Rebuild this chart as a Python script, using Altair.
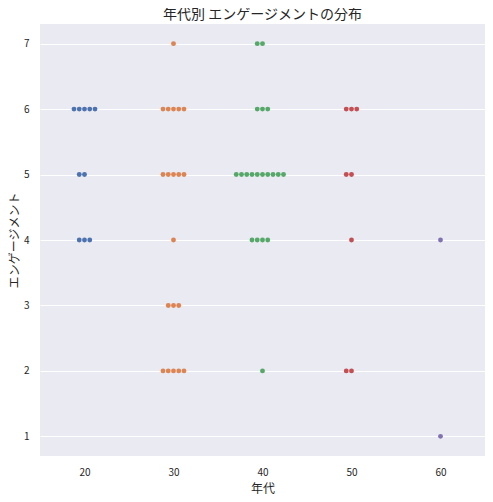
import altair as alt
import pandas as pd

# Age groups, engagement levels and number of respondents at each
ages = [20, 20, 20,
        30, 30, 30, 30, 30, 30,
        40, 40, 40, 40, 40,
        50, 50, 50, 50,
        60, 60]
engagement = [6, 5, 4,
              7, 6, 5, 4, 3, 2,
              7, 6, 5, 4, 2,
              6, 5, 4, 2,
              4, 1]
counts = [5, 2, 3,
          1, 5, 5, 1, 3, 5,
          2, 3, 10, 4, 1,
          3, 2, 1, 2,
          1, 1]

palette = ["#4C72B0", "#DD8452", "#55A868", "#C44E52", "#8172B3"]
age_order = [20, 30, 40, 50, 60]

rows = []
for a, e, n in zip(ages, engagement, counts):
    start = -(n // 2)
    for i in range(n):
        rows.append({"年代": a, "エンゲージメント": e, "slot": start + i})
df = pd.DataFrame(rows)

font = "Noto Sans CJK JP"

chart = (
    alt.Chart(df)
    .transform_calculate(xpos="datum['年代'] + datum.slot * 0.59")
    .mark_circle(size=24, opacity=1)
    .encode(
        x=alt.X("xpos:Q", title="年代",
                scale=alt.Scale(domain=[15, 65], nice=False, zero=False),
                axis=alt.Axis(values=age_order, format="d", grid=False)),
        y=alt.Y("エンゲージメント:Q", title="エンゲージメント",
                scale=alt.Scale(domain=[0.7, 7.3], nice=False, zero=False),
                axis=alt.Axis(values=[1, 2, 3, 4, 5, 6, 7], format="d")),
        color=alt.Color("年代:N", scale=alt.Scale(domain=age_order, range=palette), legend=None),
    )
    .properties(
        width=445, height=432,
        title=alt.TitleParams("年代別 エンゲージメントの分布", font=font, fontSize=14,
                              fontWeight="normal", color="#262626", offset=2),
        padding={"left": 0, "top": 0, "right": 0, "bottom": 0},
    )
    .configure_view(fill="#EAEAF2", stroke=None)
    .configure_axis(
        domain=False, ticks=False, gridColor="white", gridWidth=1,
        labelFont=font, labelFontSize=10, labelColor="#262626",
        titleFont=font, titleFontSize=12, titleColor="#262626", titleFontWeight="normal",
    )
    .configure_axisY(labelPadding=11, titlePadding=2)
    .configure_axisX(labelPadding=11, titlePadding=6)
)

chart.save("out.html", embed_options={"renderer": "svg", "actions": False})
